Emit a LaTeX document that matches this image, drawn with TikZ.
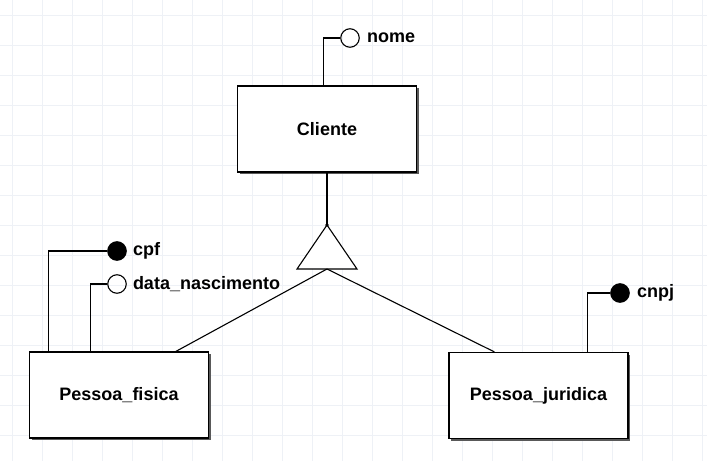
\documentclass[tikz,border=0pt]{standalone}
\usepackage{fontspec}
\setmainfont{Liberation Sans}
\usetikzlibrary{shadows}
\definecolor{gridc}{RGB}{238,241,246}
\begin{document}
\begin{tikzpicture}[x=1pt,y=-1pt,
  ent/.style={draw=black, line width=1.2pt, fill=white, minimum width=179pt, minimum height=86pt, inner sep=0pt,
    font=\fontsize{18}{21}\selectfont\bfseries,
    drop shadow={shadow xshift=2pt, shadow yshift=-2pt, fill=black!65, opacity=1}},
  attr/.style={circle, draw=black, line width=1.1pt, minimum size=18.5pt, inner sep=0pt},
  keyattr/.style={attr, fill=black},
  lbl/.style={anchor=west, inner sep=0pt, font=\fontsize{18}{21}\selectfont\bfseries},
  conn/.style={draw=black, line width=1.1pt}]
\useasboundingbox (0,0) rectangle (707,461);
\fill[white] (0,0) rectangle (707,461);
\foreach \x in {12,42,...,702} \draw[gridc, line width=1pt] (\x,0) -- (\x,461);
\foreach \y in {15,45,...,455} \draw[gridc, line width=1pt] (0,\y) -- (707,\y);

% entities
\node[ent] (cliente) at (327,129) {Cliente};
\node[ent] (fisica) at (119,395) {Pessoa\_fisica};
\node[ent] (juridica) at (538.5,395.5) {Pessoa\_juridica};

% attributes
\node[attr] (nome) at (350,38) {};
\node[lbl] (nomet) at ([xshift=7pt]nome.east) {nome};
\node[keyattr] (cpf) at (117,251) {};
\node[lbl] (cpft) at ([xshift=6pt]cpf.east) {cpf};
\node[attr] (dn) at (117,284) {};
\node[lbl] (dnt) at ([xshift=6pt]dn.east) {data\_nascimento};
\node[keyattr] (cnpj) at (620,293) {};
\node[lbl] (cnpjt) at ([xshift=7pt]cnpj.east) {cnpj};

\draw[conn] (nome.west) -| ([xshift=87pt]cliente.north west);
\draw[conn] (cpf.west) -| ([xshift=20pt]fisica.north west);
\draw[conn] (dn.west) -| ([xshift=62pt]fisica.north west);
\draw[conn] (cnpj.west) -| ([xshift=139pt]juridica.north west);

% specialization triangle
\coordinate (apex) at (327,225);
\coordinate (baseL) at (297,269);
\coordinate (baseR) at (357,269);
\coordinate (basem) at (327,269);
\draw[conn, fill=white, line join=miter] (apex) -- (baseR) -- (baseL) -- cycle;
\fill (apex) circle (1.8pt);
\draw[conn] (cliente.south) -- (apex);
\draw[conn] (basem) -- ([xshift=147pt]fisica.north west);
\draw[conn] (basem) -- ([xshift=46pt]juridica.north west);
\end{tikzpicture}
\end{document}
